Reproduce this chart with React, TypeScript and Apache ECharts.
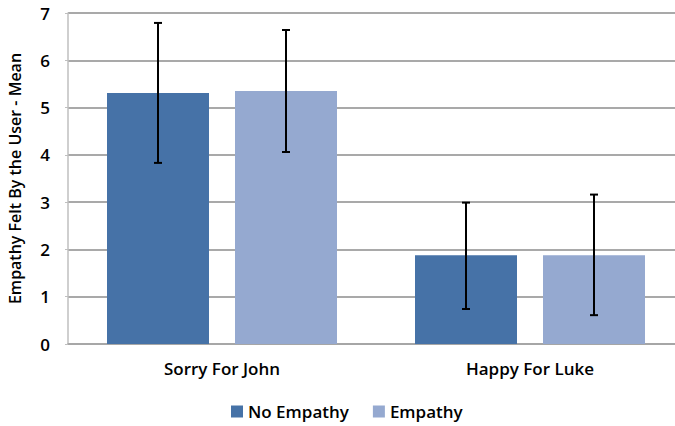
import React, { useEffect, useRef } from "react";
import * as echarts from "echarts";

const categories = ["Sorry For John", "Happy For Luke"];
const seriesNames = ["No Empathy", "Empathy"];
const noEmpathyMean = [5.31, 1.875];
const empathyMean = [5.35, 1.875];
const noEmpathyLow = [3.83, 0.74];
const noEmpathyHigh = [6.79, 2.99];
const empathyLow = [4.06, 0.61];
const empathyHigh = [6.64, 3.16];
const yTicks = [0, 1, 2, 3, 4, 5, 6, 7];

const BAR_W = 102;
const BAR_GAP = 26;
const FONT = "'Open Sans', sans-serif";
const FS = 17;
const FW = 600;

function errorSeries(name: string, low: number[], high: number[], dir: number) {
  const data = categories.map((_, i) => [i, low[i], high[i]]);
  return {
    type: "custom",
    name: name + " error",
    data,
    z: 10,
    silent: true,
    encode: { x: 0, y: [1, 2] },
    renderItem: (params: any, api: any) => {
      const i = api.value(0);
      const lo = api.coord([i, api.value(1)]);
      const hi = api.coord([i, api.value(2)]);
      const x = lo[0] + dir * (BAR_W / 2 + BAR_GAP / 2);
      const cap = 4;
      const style = { stroke: "#000", lineWidth: 2 };
      return {
        type: "group",
        children: [
          { type: "line", shape: { x1: x, y1: hi[1], x2: x, y2: lo[1] }, style },
          { type: "line", shape: { x1: x - cap, y1: hi[1], x2: x + cap, y2: hi[1] }, style },
          { type: "line", shape: { x1: x - cap, y1: lo[1], x2: x + cap, y2: lo[1] }, style },
        ],
      };
    },
  };
}

export default function App() {
  const ref = useRef<HTMLDivElement>(null);
  useEffect(() => {
    document.body.style.margin = "0";
    const chart = echarts.init(ref.current!, null, { renderer: "svg" });
    const txt = { fontSize: FS, color: "#000", fontFamily: FONT, fontWeight: FW };
    chart.setOption({
      animation: false,
      textStyle: { fontFamily: FONT },
      grid: {
        left: 68,
        right: -9,
        top: 13,
        bottom: 82,
        containLabel: false,
        outerBoundsMode: "none",
      },
      legend: {
        data: seriesNames,
        bottom: 1,
        left: 226,
        itemWidth: 12,
        itemHeight: 12,
        itemGap: 24,
        icon: "rect",
        textStyle: txt,
      },
      xAxis: {
        type: "category",
        data: categories,
        axisLine: { lineStyle: { color: "#a6a6a6", width: 1.5 } },
        axisTick: { show: false },
        axisLabel: { ...txt, margin: 16 },
      },
      yAxis: {
        type: "value",
        min: yTicks[0],
        max: yTicks[yTicks.length - 1],
        interval: 1,
        name: "Empathy Felt By the User - Mean",
        nameLocation: "middle",
        nameGap: 45,
        nameTextStyle: { ...txt, fontSize: 16 },
        axisLine: { show: true, lineStyle: { color: "#bfbfbf", width: 1.5 } },
        axisTick: { show: true, length: 3, inside: false, lineStyle: { color: "#bfbfbf" } },
        axisLabel: { ...txt, margin: 18 },
        splitLine: { lineStyle: { color: "#8c8c8c", width: 1.5 } },
      },
      series: [
        {
          name: seriesNames[0],
          type: "bar",
          data: noEmpathyMean,
          barWidth: BAR_W,
          barGap: (BAR_GAP / BAR_W) * 100 + "%",
          itemStyle: { color: "#4672a7" },
        },
        {
          name: seriesNames[1],
          type: "bar",
          data: empathyMean,
          barWidth: BAR_W,
          barGap: (BAR_GAP / BAR_W) * 100 + "%",
          itemStyle: { color: "#95a9d0" },
        },
        errorSeries(seriesNames[0], noEmpathyLow, noEmpathyHigh, -1),
        errorSeries(seriesNames[1], empathyLow, empathyHigh, 1),
      ],
    });
    return () => chart.dispose();
  }, []);
  return (
    <div
      ref={ref}
      style={{ width: 675, height: 426, position: "absolute", left: 0, top: 0 }}
    />
  );
}
